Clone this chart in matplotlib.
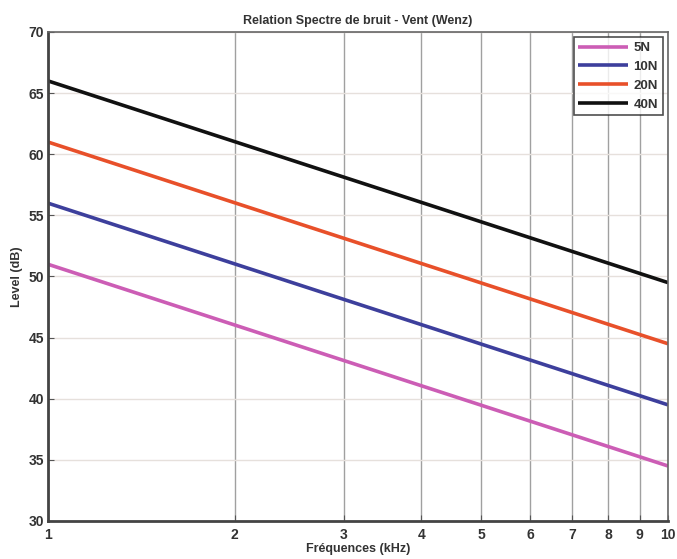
import matplotlib
matplotlib.use("Agg")
import matplotlib.pyplot as plt
from matplotlib.ticker import FixedLocator, NullLocator

plt.rcParams['font.family'] = ['Liberation Sans', 'DejaVu Sans']

freqs = [1, 10]
series_labels = ["5N", "10N", "20N", "40N"]
level_5N = [51.0, 34.5]
level_10N = [56.0, 39.5]
level_20N = [61.0, 44.5]
level_40N = [66.0, 49.5]
colors = ["#cc5db5", "#3d3f9c", "#e8502a", "#111111"]
xticks = [1, 2, 3, 4, 5, 6, 7, 8, 9, 10]
yticks = [30, 35, 40, 45, 50, 55, 60, 65, 70]

fig = plt.figure(figsize=(6.77, 5.59), dpi=100)
ax = fig.add_axes([48/677, 38/559, 620/677, 489/559])

for lab, vals, c in zip(series_labels, [level_5N, level_10N, level_20N, level_40N], colors):
    ax.plot(freqs, vals, color=c, lw=2.6, label=lab, solid_capstyle='butt')

ax.set_xscale('log')
ax.set_xlim(1, 10)
ax.set_ylim(30, 70)
ax.xaxis.set_major_locator(FixedLocator(xticks))
ax.xaxis.set_minor_locator(NullLocator())
ax.set_xticklabels([str(t) for t in xticks])
ax.set_yticks(yticks)

ax.grid(axis='x', color='#a0a0a0', lw=1.0)
ax.grid(axis='y', color='#e6e0dc', lw=1.0)

for s in ['left', 'bottom']:
    ax.spines[s].set_color('#444444')
    ax.spines[s].set_linewidth(2.0)
for s in ['top', 'right']:
    ax.spines[s].set_color('#666666')
    ax.spines[s].set_linewidth(1.2)

ax.tick_params(axis='both', which='major', labelsize=10, direction='in', length=4,
               color='#555555')
for lbl in ax.get_xticklabels() + ax.get_yticklabels():
    lbl.set_fontweight('bold')
    lbl.set_color('#333333')
ax.tick_params(axis='x', pad=5)
ax.tick_params(axis='y', pad=3)

ax.set_title("Relation Spectre de bruit - Vent (Wenz)", fontsize=9, color='#333333',
             pad=6, fontweight='bold')
ax.set_xlabel("Fréquences (kHz)", fontsize=9, color='#333333', labelpad=1,
              fontweight='bold')
ax.set_ylabel("Level (dB)", fontsize=9, color='#333333', labelpad=4,
              fontweight='bold')

leg = ax.legend(loc='upper right', fontsize=9.5, frameon=True, fancybox=False,
                handlelength=3.8, borderaxespad=0.4, labelspacing=0.5,
                handletextpad=0.4, borderpad=0.35)
leg.get_frame().set_edgecolor('#222222')
leg.get_frame().set_linewidth(1.2)
for t in leg.get_texts():
    t.set_fontweight('bold')
    t.set_color('#333333')

fig.savefig("out.png", dpi=100)
